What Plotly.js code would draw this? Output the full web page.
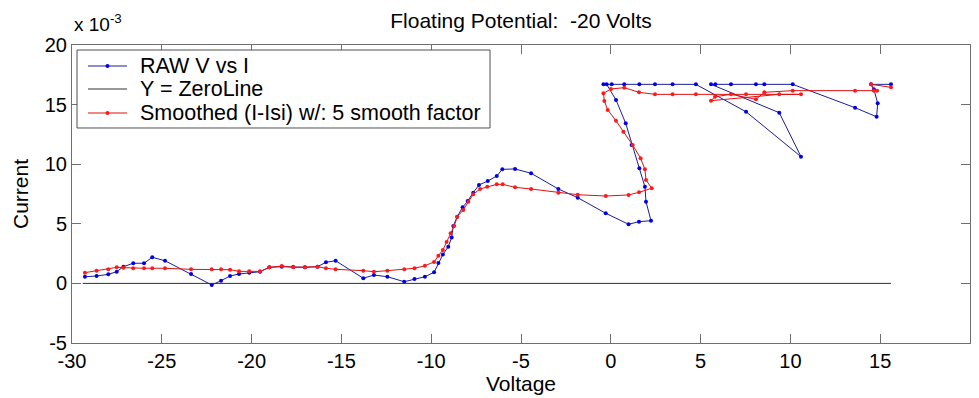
<!DOCTYPE html>
<html>
<head>
<meta charset="utf-8">
<script src="https://cdn.plot.ly/plotly-3.0.1.min.js"></script>
<style>html,body{margin:0;padding:0;background:#fff;}#chart{width:979px;height:398px;}</style>
</head>
<body>
<div id="chart"></div>
<script>
// Values of current are in units of 1e-3 (axis multiplier "x 10^-3")
const rawV = [-29.28,-28.63,-27.98,-27.51,-27.14,-26.59,-25.99,-25.53,-24.82,-23.37,-22.22,-21.70,-21.20,-20.70,-20.13,-19.53,-19.01,-18.32,-17.68,-17.03,-16.33,-15.86,-15.32,-13.78,-13.19,-12.44,-11.50,-10.93,-10.35,-9.84,-9.60,-9.35,-9.05,-8.86,-8.77,-8.55,-8.25,-7.97,-7.66,-7.34,-6.85,-6.35,-6.04,-5.33,-4.44,-2.92,-1.84,-0.28,0.99,1.57,2.24,1.96,1.90,1.59,1.16,0.83,0.29,-0.23,-0.41,0.05,0.75,1.59,2.46,3.44,4.74,7.53,10.59,9.38,5.58,5.82,6.69,8.08,8.55,10.13,13.60,14.80,14.86,14.65,14.49,15.60];
const rawI = [0.56,0.62,0.76,0.98,1.40,1.69,1.69,2.19,1.90,0.79,-0.13,0.23,0.62,0.79,0.90,0.98,1.35,1.40,1.38,1.35,1.40,1.77,1.90,0.43,0.70,0.56,0.14,0.37,0.56,0.93,1.72,2.42,3.08,3.85,4.82,5.60,6.38,6.91,7.61,8.26,8.59,9.01,9.57,9.60,9.24,7.92,7.19,5.88,4.96,5.18,5.26,6.85,8.11,9.66,11.61,13.43,15.39,16.70,16.70,16.70,16.70,16.70,16.70,16.70,16.70,14.40,10.63,14.32,16.70,16.70,16.70,16.70,16.70,16.70,14.74,13.98,15.11,16.28,16.70,16.70];

const smoothV = [-29.28,-28.63,-27.98,-27.51,-27.14,-26.59,-25.99,-25.53,-24.82,-23.37,-22.22,-21.70,-21.20,-20.70,-20.13,-19.53,-19.01,-18.32,-17.68,-17.03,-16.33,-15.86,-15.32,-13.78,-13.19,-12.44,-11.50,-10.93,-10.35,-9.84,-9.60,-9.35,-9.14,-8.92,-8.72,-8.55,-8.21,-7.93,-7.66,-7.28,-6.88,-6.35,-6.02,-5.33,-4.44,-2.92,-1.84,-0.28,0.99,1.57,2.28,1.96,1.90,1.66,1.22,0.70,0.29,-0.17,-0.36,-0.41,0.01,0.75,1.57,2.46,3.44,4.74,7.53,10.59,9.38,5.58,5.80,6.69,8.08,8.55,10.13,13.60,14.83,14.65,14.49,15.60];
const smoothI = [0.90,1.07,1.18,1.35,1.32,1.27,1.27,1.27,1.27,1.18,1.18,1.18,1.15,1.01,1.01,1.01,1.35,1.46,1.35,1.35,1.40,1.27,1.18,1.07,0.98,1.07,1.18,1.27,1.48,1.80,2.32,2.80,3.48,4.20,4.82,5.60,6.16,6.85,7.47,7.92,8.11,8.31,8.31,8.06,7.92,7.61,7.44,7.33,7.42,7.64,7.98,8.67,9.57,10.49,11.61,12.73,13.65,14.55,15.30,15.95,16.31,16.42,16.03,15.86,15.86,15.86,15.86,15.86,15.86,15.33,15.66,15.86,15.44,16.03,16.17,16.17,16.17,16.17,16.70,16.45];

const zeroV = [-29.4, 15.6];
const zeroI = [0, 0];

const xTicks = [-30,-25,-20,-15,-10,-5,0,5,10,15,20];
const yTicks = [-5,0,5,10,15,20];

const seriesNames = ['RAW V vs I', 'Y = ZeroLine', 'Smoothed (I-Isi) w/: 5 smooth factor'];
const lineColors = ['#1c1c9c', '#303030', '#e01010'];
const markerColors = ['#0000e6', null, '#ff1a1a'];

const FONT = 'Arial, "Liberation Sans", Helvetica, sans-serif';
const axisCol = '#6f6f6f';

const traces = [
  {x: rawV, y: rawI, name: seriesNames[0], type: 'scatter', mode: 'lines+markers',
   line: {color: lineColors[0], width: 1}, marker: {color: markerColors[0], size: 4, symbol: 'circle'}},
  {x: zeroV, y: zeroI, name: seriesNames[1], type: 'scatter', mode: 'lines',
   line: {color: lineColors[1], width: 1}},
  {x: smoothV, y: smoothI, name: seriesNames[2], type: 'scatter', mode: 'lines+markers',
   line: {color: lineColors[2], width: 1}, marker: {color: markerColors[2], size: 4, symbol: 'circle'}}
];

// Legend box drawn in the MATLAB style (paper coordinates)
const legRows = [0.9295, 0.8523, 0.7718];
const shapes = [
  {type: 'rect', xref: 'paper', yref: 'paper', x0: 0.0056, x1: 0.4655, y0: 0.7215, y1: 0.9832,
   line: {color: '#505050', width: 1}, fillcolor: '#ffffff', layer: 'above'}
];
const annotations = [
  {text: 'x 10<sup>-3</sup>', xref: 'paper', yref: 'paper', x: 0, y: 1.027,
   xanchor: 'left', yanchor: 'bottom', showarrow: false,
   font: {family: FONT, size: 19, color: '#000'}}
];
legRows.forEach((ry, i) => {
  shapes.push({type: 'line', xref: 'paper', yref: 'paper', x0: 0.0178, x1: 0.0613, y0: ry, y1: ry,
               line: {color: lineColors[i], width: 1}, layer: 'above'});
  if (markerColors[i]) {
    shapes.push({type: 'circle', xref: 'paper', yref: 'paper', xsizemode: 'pixel', ysizemode: 'pixel',
                 xanchor: 0.0395, yanchor: ry, x0: -2, x1: 2, y0: -2, y1: 2,
                 fillcolor: markerColors[i], line: {width: 0}, layer: 'above'});
  }
  annotations.push({text: seriesNames[i], xref: 'paper', yref: 'paper', x: 0.0735, y: ry,
                    xanchor: 'left', yanchor: 'middle', showarrow: false,
                    font: {family: FONT, size: 21.5, color: '#000'}});
});

const layout = {
  width: 979, height: 398,
  margin: {l: 72, r: 9, t: 45, b: 55, pad: 0},
  paper_bgcolor: '#ffffff', plot_bgcolor: '#ffffff',
  font: {family: FONT, color: '#000', size: 20},
  showlegend: false,
  title: {text: 'Floating Potential:\u00a0 -20 Volts', font: {family: FONT, size: 21, color: '#000'},
          xref: 'paper', x: 0.5, xanchor: 'center', yref: 'container', y: 0.947, yanchor: 'middle'},
  xaxis: {range: [-30, 20], tickmode: 'array', tickvals: xTicks, ticktext: xTicks.map(String),
          ticks: 'inside', ticklen: 9, tickcolor: axisCol, tickwidth: 1,
          showline: true, linecolor: axisCol, linewidth: 1, mirror: 'ticks',
          showgrid: false, zeroline: false, tickfont: {family: FONT, size: 20, color: '#000'},
          title: {text: 'Voltage', font: {family: FONT, size: 21, color: '#000'}, standoff: 4}},
  yaxis: {range: [-5, 20], tickmode: 'array', tickvals: yTicks, ticktext: yTicks.map(String),
          ticks: 'inside', ticklen: 9, tickcolor: axisCol, tickwidth: 1,
          showline: true, linecolor: axisCol, linewidth: 1, mirror: 'ticks',
          showgrid: false, zeroline: false, tickfont: {family: FONT, size: 20, color: '#000'},
          title: {text: 'Current', font: {family: FONT, size: 21, color: '#000'}, standoff: 10}},
  shapes: shapes,
  annotations: annotations
};

Plotly.newPlot('chart', traces, layout, {displayModeBar: false, staticPlot: true});
</script>
</body>
</html>
